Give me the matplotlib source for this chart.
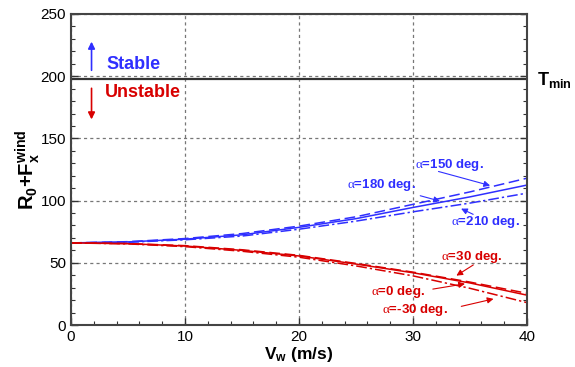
import numpy as np
import matplotlib
matplotlib.use("Agg")
import matplotlib.pyplot as plt
from matplotlib.ticker import MultipleLocator

plt.rcParams['font.family'] = ['Liberation Sans', 'DejaVu Sans']
plt.rcParams['mathtext.fontset'] = 'custom'
plt.rcParams['mathtext.rm'] = 'Liberation Sans'
plt.rcParams['mathtext.bf'] = 'Liberation Sans:bold'
plt.rcParams['mathtext.it'] = 'Liberation Serif'

# wind speed (m/s)
v_wind = [0, 5, 10, 15, 20, 25, 30, 35, 40]

# R0 + Fx^wind for each wind direction
r_150 = [66, 67.0, 69.5, 73.5, 79.5, 87.0, 97.0, 107.0, 118.0]
r_180 = [66, 66.8, 69.0, 72.5, 78.5, 85.5, 94.5, 103.0, 112.5]
r_210 = [66, 66.5, 68.5, 71.5, 77.0, 83.5, 91.0, 98.0, 106.0]
r_30 = [66, 65.5, 63.8, 60.5, 56.0, 49.5, 42.5, 34.5, 25.5]
r_0 = [66, 65.4, 63.5, 60.0, 55.5, 49.0, 42.0, 33.8, 24.0]
r_m30 = [66, 65.2, 63.0, 59.3, 54.5, 47.5, 39.5, 29.5, 18.0]

t_min = 197.5

blue = '#2f2fff'
red = '#d80000'

fig = plt.figure(figsize=(5.75, 3.67), dpi=100)
ax = fig.add_axes([0.1235, 0.1144, 0.793, 0.8475])

ax.plot(v_wind, r_150, color=blue, lw=1.1, ls=(0, (7, 3)))
ax.plot(v_wind, r_180, color=blue, lw=1.1, ls='-')
ax.plot(v_wind, r_210, color=blue, lw=1.1, ls=(0, (7, 2, 1.5, 2)))
ax.plot(v_wind, r_30, color=red, lw=1.1, ls=(0, (7, 3)))
ax.plot(v_wind, r_0, color=red, lw=1.1, ls='-')
ax.plot(v_wind, r_m30, color=red, lw=1.1, ls=(0, (7, 2, 1.5, 2)))

ax.axhline(t_min, color='#333333', lw=1.6)

ax.set_xlim(0, 40)
ax.set_ylim(0, 250)
ax.xaxis.set_major_locator(MultipleLocator(10))
ax.xaxis.set_minor_locator(MultipleLocator(2))
ax.yaxis.set_major_locator(MultipleLocator(50))
ax.yaxis.set_minor_locator(MultipleLocator(10))
ax.tick_params(which='both', direction='in', right=True, top=False,
               labelsize=11, color='#333333')
ax.tick_params(which='major', length=5, width=1)
ax.tick_params(which='minor', length=3, width=0.8)
ax.grid(True, which='major', color='#777777', ls=(0, (2.5, 2.5)), lw=0.9)
for s in ax.spines.values():
    s.set_color('#444444')
    s.set_linewidth(1.5)

ax.set_xlabel(r'$\mathbf{V_w}$ (m/s)', fontsize=12.5, fontweight='bold', labelpad=1)
ax.set_ylabel(r'$\mathbf{R_0}$+$\mathbf{F_x^{wind}}$', fontsize=14.5,
              fontweight='bold', labelpad=-1)

# stability regions
ax.annotate('', xy=(1.8, 230), xytext=(1.8, 202.5),
            arrowprops=dict(arrowstyle='-|>', color=blue, lw=1.2, mutation_scale=10))
ax.text(3.1, 209.5, 'Stable', color=blue, fontsize=13, fontweight='bold', va='center')
ax.annotate('', xy=(1.8, 163), xytext=(1.8, 192.5),
            arrowprops=dict(arrowstyle='-|>', color=red, lw=1.2, mutation_scale=10))
ax.text(3.0, 186.5, 'Unstable', color=red, fontsize=13, fontweight='bold', va='center')
fig.text(0.934, 0.782, r'$\mathbf{T_{min}}$', fontsize=13, va='center', ha='left')

labels = [
    (r'$\alpha$=150 deg.', (37.0, 111.5), (30.2, 128.5), blue, (32.0, 124.0)),
    (r'$\alpha$=180 deg.', (32.6, 99.0), (24.2, 112.5), blue, (30.4, 104.5)),
    (r'$\alpha$=210 deg.', (34.0, 94.5), (33.3, 82.5), blue, (35.5, 88.0)),
    (r'$\alpha$=30 deg.', (33.6, 38.5), (32.5, 54.5), red, (35.5, 49.5)),
    (r'$\alpha$=0 deg.', (34.8, 33.5), (26.3, 26.5), red, (31.5, 28.5)),
    (r'$\alpha$=-30 deg.', (37.3, 21.5), (27.3, 12.0), red, (34.0, 14.5)),
]
for txt, tip, pos, col, tail in labels:
    ax.text(pos[0], pos[1], txt, color=col, fontsize=9.5, fontweight='bold',
            va='center', ha='left')
    ax.annotate('', xy=tip, xytext=tail,
                arrowprops=dict(arrowstyle='-|>', color=col, lw=0.8, mutation_scale=9))

fig.savefig('out.png', dpi=100)
